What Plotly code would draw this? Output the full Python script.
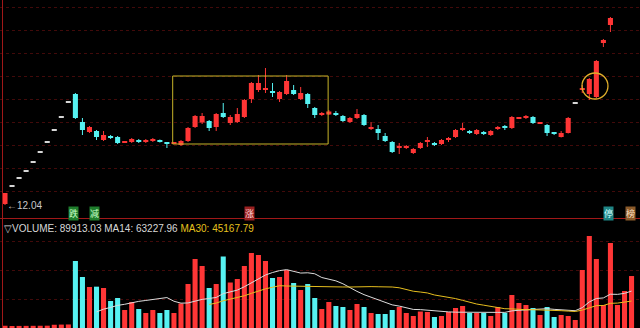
import plotly.graph_objects as go
import pandas as pd

# ---------------- data ----------------
opens = [12.24, 15.64, 17.24, 18.64, 20.44, 22.44, 24.44, 26.84, 29.44, 32.44,
         34.24, 28.64, 26.64, 26.84, 25.04, 25.74, 25.64, 24.54, 24.64, 25.04,
         24.74, 24.84, 25.04, 24.54, 24.34, 24.04, 24.84, 27.64, 28.54, 28.84,
         27.64, 30.44, 28.44, 28.64, 29.64, 33.24, 35.04, 35.14, 34.74, 33.24,
         34.24, 35.04, 33.24, 34.24, 31.44, 30.14, 30.14, 30.34, 29.84, 28.64,
         29.44, 30.04, 27.34, 27.24, 25.84, 24.64, 23.54, 23.54, 22.44, 23.44,
         24.74, 24.44, 24.24, 25.14, 25.64, 27.14, 26.74, 26.24, 26.54, 26.04,
         27.24, 27.74, 27.44, 29.34, 29.44, 29.64, 28.34, 28.04, 26.54, 25.64,
         26.44, 32.24, 35.14, 34.24, 33.64, 44.44, 48.04, 54.00, 57.50, 63.00]
highs = [14.44, 15.64, 17.24, 18.64, 20.44, 22.44, 24.44, 26.84, 29.44, 32.44,
         34.44, 29.44, 27.84, 27.04, 26.84, 26.04, 25.84, 24.84, 25.44, 25.24,
         25.24, 25.44, 25.14, 24.54, 24.64, 25.04, 27.64, 30.04, 30.44, 29.04,
         30.44, 32.44, 30.04, 31.44, 33.24, 36.64, 38.04, 39.44, 36.44, 34.84,
         38.04, 36.04, 35.64, 34.44, 31.64, 30.64, 31.04, 30.84, 30.04, 29.64,
         31.24, 30.24, 28.64, 28.04, 26.44, 24.84, 24.44, 24.04, 23.44, 24.64,
         25.64, 24.64, 25.24, 25.64, 27.24, 28.44, 27.04, 27.24, 26.84, 27.04,
         27.84, 28.04, 29.84, 29.64, 30.04, 29.84, 28.64, 28.24, 26.64, 26.84,
         29.64, 32.24, 36.04, 37.44, 41.04, 45.24, 49.64, 54.38, 59.82, 65.80]
lows = [12.04, 15.64, 17.24, 18.64, 20.44, 22.44, 24.44, 26.84, 29.44, 32.44,
        29.24, 26.04, 26.44, 25.04, 24.84, 25.24, 24.24, 24.44, 24.44, 24.44,
        24.44, 24.64, 24.54, 23.44, 24.24, 23.84, 24.64, 27.44, 28.24, 26.84,
        26.84, 29.44, 28.04, 28.44, 29.44, 32.44, 34.64, 34.44, 33.64, 32.64,
        34.04, 34.04, 33.04, 31.44, 29.44, 29.84, 30.04, 29.84, 28.64, 28.44,
        29.24, 27.84, 27.04, 25.04, 24.64, 22.44, 22.24, 23.24, 22.24, 23.24,
        23.64, 23.84, 24.04, 24.64, 25.44, 26.84, 26.24, 26.04, 26.04, 25.84,
        27.04, 27.04, 27.24, 29.24, 29.24, 28.24, 28.24, 25.84, 26.04, 25.54,
        26.34, 32.24, 34.44, 33.04, 33.44, 43.64, 46.64, 53.60, 57.00, 62.00]
closes = [14.44, 15.64, 17.24, 18.64, 20.44, 22.44, 24.44, 26.84, 29.44, 32.44,
          29.44, 27.04, 27.64, 25.64, 26.04, 25.54, 24.44, 24.74, 25.24, 24.64,
          24.94, 25.24, 24.64, 24.34, 24.54, 24.84, 27.44, 29.84, 29.84, 27.44,
          30.24, 29.64, 29.64, 30.24, 33.04, 36.44, 36.44, 35.34, 34.54, 34.64,
          36.84, 34.24, 34.44, 32.24, 30.04, 30.34, 30.74, 30.14, 28.84, 29.44,
          30.24, 28.04, 27.54, 26.44, 24.84, 22.64, 23.74, 23.74, 23.24, 24.44,
          24.94, 24.04, 25.04, 25.34, 27.04, 27.34, 26.54, 27.04, 26.34, 26.84,
          27.64, 27.54, 29.64, 29.54, 29.84, 28.44, 28.54, 26.44, 26.34, 26.44,
          29.44, 32.24, 35.34, 37.24, 40.84, 45.04, 49.44, 54.38, 59.82, 65.80]
volumes = [3900, 3500, 3600, 3700, 3800, 3900, 4000, 5600, 5900, 6100,
           115900, 88200, 70900, 71500, 69200, 46700, 51900, 31100, 45000, 32900,
           26000, 31100, 26000, 31100, 26000, 42400, 76100, 119400, 107300, 69200,
           76100, 123700, 78700, 84800, 107300, 129800, 126300, 115900, 86500, 88200,
           100300, 77900, 65700, 76100, 51900, 32900, 45000, 38100, 36300, 31100,
           41500, 36300, 26000, 24200, 24200, 31100, 36300, 26000, 20800, 28500,
           27700, 19000, 20800, 27700, 34600, 38100, 26000, 26000, 26000, 20800,
           36300, 26000, 57100, 43300, 39800, 34600, 22500, 36300, 19000, 22500,
           20800, 13800, 100300, 159200, 119400, 39800, 147000, 39800, 64000, 89913.03]

vol_label_values = ["89913.03", "63227.96", "45167.79"]
event_index = [9, 12, 34, 85, 88]
event_text = ["跌", "减", "涨", "停", "榜"]
event_bg = ["#1f7d2c", "#1f7d2c", "#9a2020", "#1f8585", "#8a5a2a"]
event_fg = ["#c8ffc8", "#c8ffc8", "#ffd6d6", "#d6ffff", "#ffe2c4"]
price_grid = [14.84, 19.44, 24.04, 28.64, 33.24, 37.84, 42.44, 47.04, 51.64]
volume_grid = [50000, 100000, 150000]

# ---------------- styling ----------------
UP = "#FF3636"
DOWN = "#56F2F2"
FLAT = "#D6D6D6"
W, H = 640, 328
price_bottom_px = 218.5
price_dom = [1 - price_bottom_px / H, 1]
vol_dom = [0, 1 - 219.5 / H]
x_range = [-0.71, 90.2]
price_range = [53.04 - price_bottom_px * 0.2, 53.04]
vol_range = [0, (H - 219.5) * 1730]

n = len(closes)
xs = list(range(n))

def kind(i):
    if closes[i] > opens[i]:
        return "up"
    if closes[i] < opens[i]:
        return "down"
    return "flat"

fig = go.Figure()

# wicks
for k, col in (("up", UP), ("down", DOWN)):
    wx, wy = [], []
    for i in range(n):
        if kind(i) == k and highs[i] > lows[i]:
            wx += [i, i, None]
            wy += [lows[i], highs[i], None]
    fig.add_trace(go.Scatter(x=wx, y=wy, mode="lines", line=dict(color=col, width=1),
                             hoverinfo="skip", xaxis="x", yaxis="y"))

# bodies
for k, col in (("up", UP), ("down", DOWN), ("flat", FLAT)):
    idx = [i for i in range(n) if kind(i) == k]
    base = [min(opens[i], closes[i]) for i in idx]
    hgt = [max(abs(closes[i] - opens[i]), 0.24) for i in idx]
    fig.add_trace(go.Bar(x=idx, y=hgt, base=base, width=0.72, marker=dict(color=col, line=dict(width=0)),
                         xaxis="x", yaxis="y", hoverinfo="skip"))

# volume bars
vcol = [DOWN if closes[i] < opens[i] else UP for i in range(n)]
fig.add_trace(go.Bar(x=xs, y=volumes, width=0.72, marker=dict(color=vcol, line=dict(width=0)),
                     xaxis="x2", yaxis="y2", hoverinfo="skip"))

vs = pd.Series(volumes)
ma14 = vs.rolling(14).mean()
ma30 = vs.rolling(30).mean()
fig.add_trace(go.Scatter(x=xs, y=ma14, mode="lines", line=dict(color="#DCDCDC", width=1),
                         xaxis="x2", yaxis="y2", hoverinfo="skip"))
fig.add_trace(go.Scatter(x=xs, y=ma30, mode="lines", line=dict(color="#E6BE1E", width=1),
                         xaxis="x2", yaxis="y2", hoverinfo="skip"))

grid_col = "rgba(120,18,18,0.55)"
fig.update_layout(
    width=W, height=H, margin=dict(l=0, r=0, t=0, b=0),
    paper_bgcolor="black", plot_bgcolor="black", showlegend=False, barmode="overlay",
    xaxis=dict(domain=[0, 1], range=x_range, showticklabels=False, showgrid=False, zeroline=False,
               showline=False, anchor="y"),
    yaxis=dict(domain=price_dom, range=price_range, tickvals=price_grid, showticklabels=False,
               showgrid=True, gridcolor=grid_col, griddash="dot", gridwidth=1, zeroline=False),
    xaxis2=dict(domain=[0, 1], range=x_range, showticklabels=False, showgrid=False, zeroline=False,
                showline=False, anchor="y2"),
    yaxis2=dict(domain=vol_dom, range=vol_range, tickvals=volume_grid, showticklabels=False,
                showgrid=True, gridcolor=grid_col, griddash="dot", gridwidth=1, zeroline=False),
    font=dict(family="Liberation Sans, Arial, sans-serif"),
)

shapes = [
    dict(type="line", xref="paper", yref="paper", x0=0, x1=1, y0=1 - 218.5 / H, y1=1 - 218.5 / H,
         line=dict(color="#A01818", width=1)),
    dict(type="line", xref="paper", yref="paper", x0=2.5 / W, x1=2.5 / W, y0=0, y1=1,
         line=dict(color="#A01818", width=1)),
    dict(type="rect", xref="x", yref="y", x0=23.82, x1=45.9, y0=24.24, y1=37.84,
         line=dict(color="#C8B428", width=1), fillcolor="rgba(0,0,0,0)"),
    dict(type="circle", xref="x", yref="y", x0=81.96, x1=85.65, y0=33.24, y1=38.44,
         line=dict(color="#E0AE2A", width=1.3), fillcolor="rgba(0,0,0,0)"),
]
fig.update_layout(shapes=shapes)

low_i = min(range(n), key=lambda i: lows[i])
ann = [
    dict(x=low_i, y=lows[low_i], xref="x", yref="y", xanchor="left", yanchor="middle",
         text=f"←{lows[low_i]:.2f}", showarrow=False, xshift=0,
         font=dict(color="#C8C8C8", size=10, family="Liberation Sans, Arial")),
    dict(x=2 / W, y=1 - 228.5 / H, xref="paper", yref="paper", xanchor="left", yanchor="middle",
         showarrow=False,
         text=(f"▽VOLUME: {vol_label_values[0]} MA14: {vol_label_values[1]} "
               f"<span style='color:#E6C21E'>MA30: {vol_label_values[2]}</span>"),
         font=dict(color="#D8D8D8", size=10, family="Liberation Sans, Arial")),
]
for i, t, bg, fg in zip(event_index, event_text, event_bg, event_fg):
    ann.append(dict(x=i, y=1 - 213 / H, xref="x", yref="paper", xanchor="left", yanchor="middle",
                    text=t, showarrow=False, bgcolor=bg, borderpad=0,
                    font=dict(color=fg, size=9, family="Noto Sans CJK SC")))
fig.update_layout(annotations=ann)

fig.write_html("out.html", config={"displayModeBar": False})
